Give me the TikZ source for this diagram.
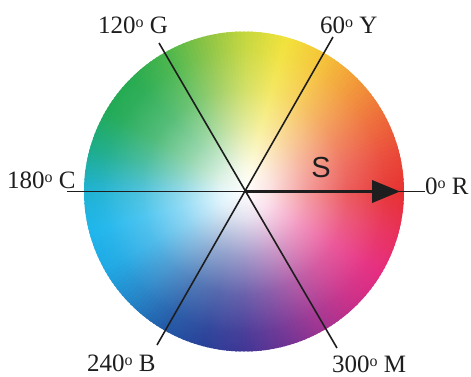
\documentclass[tikz,border=0pt]{standalone}
\usepackage{fontspec}
\setmainfont{Liberation Serif}
\newfontfamily\sfont{Liberation Sans}
\usetikzlibrary{arrows.meta,fadings}
\definecolor{k0}{HTML}{E62A2A}
\definecolor{k15}{HTML}{EA4432}
\definecolor{k30}{HTML}{EE6A32}
\definecolor{k45}{HTML}{F29632}
\definecolor{k60}{HTML}{F5C232}
\definecolor{k75}{HTML}{F2E236}
\definecolor{k90}{HTML}{C4D638}
\definecolor{k105}{HTML}{86C23E}
\definecolor{k120}{HTML}{45B446}
\definecolor{k135}{HTML}{22A94C}
\definecolor{k150}{HTML}{1CA852}
\definecolor{k165}{HTML}{16AA88}
\definecolor{k180}{HTML}{18B0D2}
\definecolor{k195}{HTML}{18B4EC}
\definecolor{k210}{HTML}{18A6E4}
\definecolor{k225}{HTML}{1C80C6}
\definecolor{k240}{HTML}{1B55A5}
\definecolor{k255}{HTML}{223C96}
\definecolor{k270}{HTML}{3A3092}
\definecolor{k285}{HTML}{682D91}
\definecolor{k300}{HTML}{9E2D8E}
\definecolor{k315}{HTML}{CA2884}
\definecolor{k330}{HTML}{E6267C}
\definecolor{k345}{HTML}{E72A56}
\definecolor{linec}{HTML}{1E1E1E}
\pgfdeclareradialshading{wfadeshade}{\pgfpointorigin}{color(0bp)=(white); color(4bp)=(white!86!black); color(10bp)=(white!52!black); color(16bp)=(white!24!black); color(22bp)=(white!7!black); color(27bp)=(black); color(50bp)=(black)}
\pgfdeclarefading{wfade}{\pgfuseshading{wfadeshade}}
\newcommand{\dg}{\raisebox{6pt}{\fontsize{16}{16}\selectfont o}}
\tikzset{
  lab/.style={font=\fontsize{25}{30}\selectfont, inner sep=0pt, anchor=base west, text=linec},
  axisline/.style={draw=linec, line width=1.6pt}
}
\begin{document}
\begin{tikzpicture}[x=1pt,y=1pt]
\useasboundingbox (0,0) rectangle (471,376);
\coordinate (O) at (244,184.5);
\def\R{160}
\foreach \a/\ca/\cb in {0/k0/k15,15/k15/k30,30/k30/k45,45/k45/k60,60/k60/k75,75/k75/k90,90/k90/k105,105/k105/k120,120/k120/k135,135/k135/k150,150/k150/k165,165/k165/k180,180/k180/k195,195/k195/k210,210/k210/k225,225/k225/k240,240/k240/k255,255/k255/k270,270/k270/k285,285/k285/k300,300/k300/k315,315/k315/k330,330/k330/k345,345/k345/k0}{
  \foreach \j in {0,...,9}{
    \pgfmathtruncatemacro\p{100-10*\j-5}
    \pgfmathsetmacro\s{\a+1.5*\j-0.4}
    \pgfmathsetmacro\e{\a+1.5*\j+1.9}
    \fill[\ca!\p!\cb] (O) -- ([shift={(\s:\R)}]O) arc[start angle=\s, end angle=\e, radius=\R] -- cycle;
  }
}
\fill[white, path fading=wfade] (O) circle[radius=\R];
\coordinate (eG) at (159,333);
\coordinate (eY) at (333,339);
\coordinate (eB) at (157,31);
\coordinate (eM) at (337,28);
\coordinate (eC) at (67,184.5);
\coordinate (eR) at (425,184.5);
\coordinate (tip) at (400,184.5);
\draw[axisline] (eG) -- (eM);
\draw[axisline] (eY) -- (eB);
\draw[axisline] (eC) -- (eR);
\draw[draw=linec, line width=3.8pt, -{Triangle[length=28pt,width=22pt]}] (O) -- (tip);
\node[lab] (lG) at (98,343) {120\dg\ G};
\node[lab] (lY) at (320,343) {60\dg\ Y};
\node[lab] (lC) at (7,188) {180\dg\ C};
\node[lab] (lR) at (425,182) {0\dg\ R};
\node[lab] (lB) at (87,5) {240\dg\ B};
\node[lab] (lM) at (332,4) {300\dg\ M};
\node[font=\sfont\fontsize{29}{34}\selectfont, inner sep=0pt, anchor=base, text=linec] (S) at (321,199) {S};
\end{tikzpicture}
\end{document}
